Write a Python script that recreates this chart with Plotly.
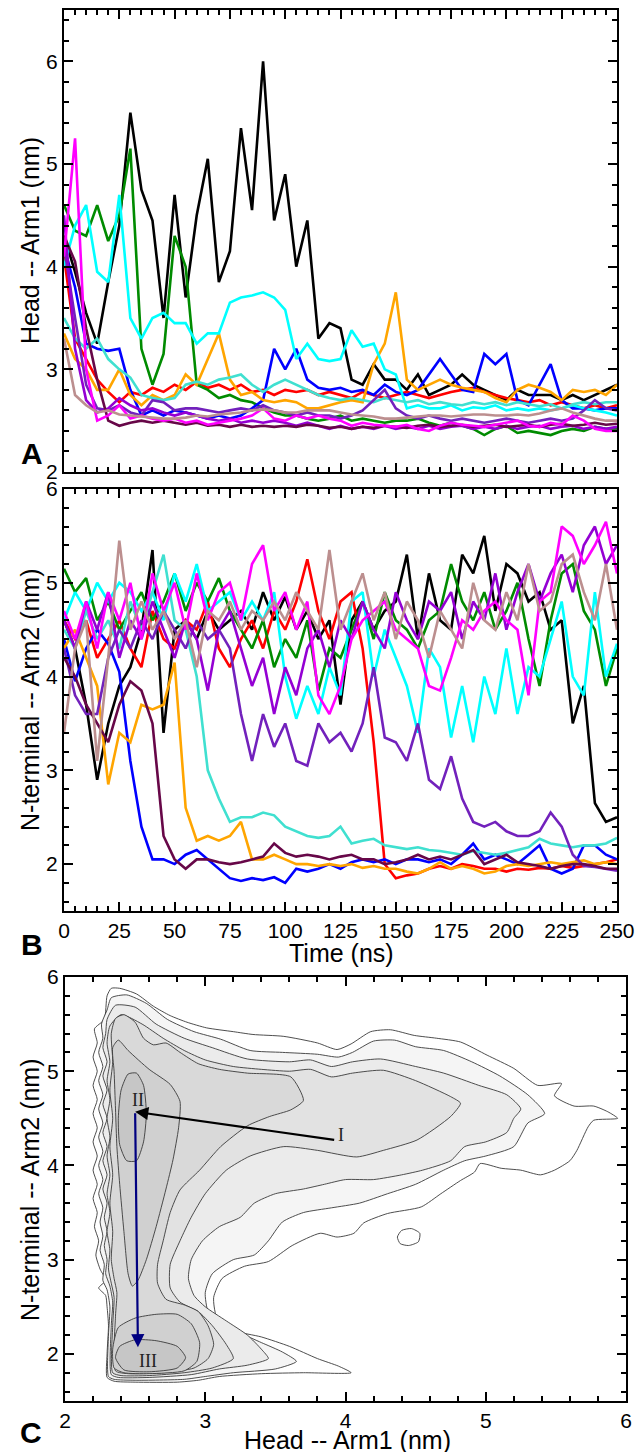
import plotly.graph_objects as go

# ---------------- time axis (ns) ----------------
T = list(range(0, 251, 5))

# ---------------- Panel A : Head -- Arm1 (nm) ----------------
A_black = [4.3,3.95,3.55,3.25,3.85,4.4,5.5,4.75,4.45,3.5,4.7,3.7,4.5,5.05,3.85,4.15,5.35,4.55,6.0,4.45,4.9,4.0,4.45,3.3,3.45,3.4,2.9,2.85,3.05,2.9,2.9,2.8,2.95,2.75,2.8,2.85,2.95,2.85,2.8,2.75,2.7,2.8,2.75,2.75,2.75,2.7,2.75,2.7,2.75,2.8,2.85]
A_green = [4.6,4.35,4.3,4.6,4.25,4.5,5.15,3.2,2.85,3.15,4.3,4.0,2.85,2.8,2.72,2.75,2.7,2.68,2.62,2.58,2.55,2.55,2.52,2.5,2.52,2.55,2.5,2.52,2.5,2.48,2.5,2.5,2.52,2.48,2.45,2.48,2.45,2.42,2.36,2.42,2.45,2.38,2.4,2.38,2.36,2.4,2.42,2.4,2.44,2.42,2.42]
A_cyan = [4.0,4.4,4.6,3.95,3.85,4.7,3.5,3.3,3.5,3.55,3.45,3.45,3.25,3.35,3.35,3.65,3.7,3.72,3.75,3.7,3.58,3.1,3.25,3.1,3.08,3.1,3.38,3.22,3.25,3.0,2.95,2.62,2.65,2.62,2.62,2.65,2.6,2.63,2.62,2.65,2.6,2.62,2.6,2.62,2.6,2.62,2.65,2.62,2.6,2.58,2.55]
A_blue = [4.2,3.8,3.25,3.2,3.18,3.2,2.8,2.55,2.6,2.55,2.6,2.58,2.55,2.52,2.55,2.52,2.55,2.62,2.7,3.2,3.0,3.2,2.9,2.82,2.8,2.82,2.78,2.8,2.75,2.85,2.78,2.75,2.8,2.95,3.1,2.95,2.8,2.78,3.15,3.05,3.15,2.7,2.65,2.85,3.05,2.7,2.62,2.62,2.6,2.62,2.62]
A_orange = [3.35,3.1,3.0,2.8,2.8,3.0,2.75,2.65,2.75,2.7,2.75,2.95,2.85,3.1,3.35,2.9,2.75,2.78,2.7,2.68,2.7,2.68,2.62,2.62,2.65,2.68,2.7,2.68,3.05,3.25,3.75,2.9,2.8,2.85,2.9,2.85,2.82,2.8,2.78,2.72,2.68,2.8,2.85,2.82,2.78,2.7,2.8,2.78,2.8,2.75,2.85]
A_red = [4.1,3.3,3.1,2.9,2.78,2.68,2.78,2.75,2.82,2.78,2.85,2.8,2.88,2.82,2.85,2.8,2.85,2.78,2.8,2.75,2.8,2.78,2.8,2.75,2.78,2.75,2.72,2.78,2.75,2.72,2.75,2.78,2.75,2.72,2.75,2.78,2.8,2.82,2.78,2.75,2.72,2.7,2.68,2.7,2.65,2.68,2.65,2.62,2.65,2.62,2.65]
A_turq = [3.5,3.3,3.2,3.3,3.1,3.0,2.92,2.75,2.72,2.7,2.72,2.85,2.88,2.85,2.9,2.92,2.95,2.85,2.78,2.85,2.9,2.85,2.8,2.75,2.72,2.7,2.72,2.7,2.68,2.72,2.7,2.68,2.7,2.66,2.68,2.66,2.65,2.68,2.66,2.68,2.65,2.68,2.66,2.64,2.66,2.62,2.66,2.68,2.66,2.68,2.68]
A_violet = [4.5,3.2,2.7,2.58,2.62,2.72,2.65,2.6,2.62,2.58,2.55,2.58,2.55,2.52,2.5,2.52,2.48,2.5,2.48,2.5,2.48,2.45,2.48,2.45,2.42,2.45,2.42,2.44,2.42,2.45,2.42,2.44,2.42,2.45,2.42,2.44,2.45,2.42,2.44,2.42,2.45,2.42,2.44,2.45,2.42,2.44,2.45,2.42,2.44,2.42,2.44]
A_indigo = [4.2,3.5,2.85,2.62,2.6,2.65,2.58,2.55,2.7,2.68,2.6,2.62,2.62,2.6,2.58,2.6,2.62,2.6,2.65,2.6,2.58,2.55,2.58,2.55,2.55,2.52,2.55,2.6,2.7,2.8,2.62,2.55,2.52,2.55,2.52,2.5,2.52,2.5,2.48,2.5,2.52,2.5,2.48,2.5,2.52,2.5,2.52,2.6,2.7,2.62,2.6]
A_magenta = [4.1,5.25,3.0,2.5,2.55,2.65,2.52,2.55,2.52,2.5,2.52,2.48,2.5,2.46,2.48,2.5,2.52,2.55,2.62,2.52,2.5,2.55,2.52,2.55,2.52,2.5,2.45,2.48,2.46,2.45,2.44,2.46,2.42,2.4,2.45,2.48,2.46,2.45,2.44,2.46,2.48,2.5,2.45,2.44,2.48,2.46,2.55,2.5,2.42,2.4,2.4]
A_maroon = [4.3,4.05,3.4,2.9,2.5,2.45,2.48,2.5,2.48,2.5,2.48,2.46,2.48,2.45,2.46,2.44,2.46,2.44,2.45,2.44,2.45,2.44,2.46,2.45,2.43,2.44,2.42,2.44,2.43,2.45,2.44,2.43,2.45,2.46,2.44,2.45,2.46,2.44,2.45,2.46,2.44,2.45,2.46,2.44,2.46,2.47,2.45,2.46,2.48,2.46,2.47]
A_brown = [3.3,2.75,2.65,2.58,2.6,2.56,2.55,2.54,2.53,2.52,2.52,2.53,2.55,2.54,2.56,2.57,2.58,2.6,2.61,2.6,2.58,2.58,2.6,2.6,2.6,2.58,2.56,2.55,2.54,2.52,2.52,2.53,2.54,2.55,2.55,2.54,2.55,2.56,2.56,2.55,2.55,2.56,2.55,2.57,2.6,2.62,2.58,2.55,2.52,2.5,2.5]

# ---------------- Panel B : N-terminal -- Arm2 (nm) ----------------
B_black = [4.6,4.3,3.7,2.9,3.5,3.9,4.1,4.5,5.35,3.4,4.5,4.6,4.4,4.7,4.5,4.6,4.7,4.5,4.9,4.6,4.85,4.5,4.7,4.4,4.6,3.7,4.6,4.8,4.5,4.7,4.8,5.3,4.4,5.1,4.6,4.5,5.3,5.1,5.5,4.7,5.2,5.1,4.8,4.9,4.5,4.6,3.5,3.9,2.65,2.45,2.5]
B_green = [5.15,4.9,5.05,4.6,4.8,4.5,4.7,4.9,4.6,4.8,5.1,4.7,5.0,4.8,5.05,4.7,4.5,4.3,4.6,4.1,4.4,4.2,4.6,3.85,4.3,4.2,4.5,4.8,4.4,4.9,4.6,4.5,4.3,4.6,4.7,5.2,4.8,4.6,4.9,4.5,4.7,5.0,4.4,3.9,4.6,5.1,5.2,4.7,4.5,3.9,4.3]
B_cyan = [4.6,4.9,4.7,5.0,4.8,5.0,4.9,4.7,4.9,4.6,5.1,4.8,5.2,4.7,4.8,4.9,4.6,4.8,4.6,4.9,4.0,3.55,3.9,3.6,4.1,3.8,4.8,4.9,4.0,4.5,4.2,3.9,3.4,4.3,4.1,3.35,3.9,3.3,4.0,3.6,4.3,3.6,4.1,4.0,4.4,4.8,4.0,3.8,4.9,4.0,4.35]
B_blue = [4.4,3.95,4.3,4.5,4.35,4.05,3.1,2.4,2.05,2.05,2.0,2.1,2.15,2.05,1.95,1.85,1.82,1.85,1.83,1.86,1.8,1.95,1.92,1.95,2.0,1.95,2.02,2.05,2.02,2.05,2.0,2.05,2.05,2.02,2.05,2.0,2.1,2.22,2.05,2.1,2.05,2.0,2.1,2.2,1.95,1.9,1.95,2.2,2.2,2.1,2.05]
B_orange = [4.3,4.5,4.2,3.9,2.85,3.4,3.3,3.7,3.65,3.7,4.15,2.6,2.25,2.3,2.25,2.3,2.45,2.05,2.05,2.1,2.05,2.0,2.0,1.98,2.0,1.98,2.0,1.96,1.98,1.95,1.95,1.92,1.9,1.95,2.02,1.95,1.98,1.95,1.9,1.92,1.98,2.0,1.98,2.0,2.02,2.0,2.02,2.04,2.0,2.02,2.0]
B_red = [4.6,4.4,4.6,4.2,4.4,4.6,4.3,4.1,4.7,4.4,4.3,4.6,4.5,4.8,4.3,4.1,4.4,4.6,4.3,4.7,4.5,4.8,5.25,4.7,4.4,4.8,4.9,4.3,3.3,2.0,1.85,1.88,1.9,1.95,1.98,1.95,2.0,1.98,1.95,1.95,1.92,1.95,1.94,1.96,1.95,1.98,1.96,1.98,2.0,2.02,2.05]
B_turq = [4.5,4.3,4.7,4.4,4.6,4.3,4.8,4.5,4.9,5.3,4.6,4.5,4.0,3.0,2.7,2.45,2.5,2.5,2.55,2.52,2.4,2.35,2.3,2.28,2.3,2.4,2.22,2.25,2.27,2.2,2.18,2.16,2.18,2.15,2.14,2.12,2.1,2.14,2.12,2.1,2.12,2.15,2.18,2.27,2.22,2.2,2.18,2.2,2.2,2.22,2.28]
B_indigo = [4.3,3.8,3.6,3.6,4.2,4.5,4.3,4.6,4.4,4.7,4.5,4.3,4.6,4.4,4.5,4.3,3.6,3.1,3.6,3.25,3.5,3.1,3.05,3.5,3.3,3.4,3.2,3.5,4.1,3.35,3.3,3.1,3.5,2.9,2.8,3.15,2.7,2.45,2.4,2.45,2.35,2.3,2.3,2.35,2.55,2.4,2.1,1.98,1.97,1.95,1.93]
B_violet = [4.6,4.3,4.8,4.5,4.9,4.2,4.6,4.4,4.8,4.5,4.2,4.6,4.4,3.85,4.5,4.7,4.3,3.9,4.2,3.6,4.1,3.8,4.3,4.5,4.1,4.6,4.4,4.8,4.5,4.3,4.9,4.6,4.4,4.8,4.7,4.9,4.4,4.8,4.6,5.1,4.5,4.9,5.2,4.8,5.1,5.3,4.9,5.4,5.6,5.2,5.4]
B_maroon = [4.2,4.0,3.7,3.5,3.3,3.7,3.95,3.85,3.5,2.3,2.05,1.95,2.05,2.05,2.02,2.0,2.02,2.05,2.08,2.22,2.12,2.08,2.1,2.08,2.05,2.08,2.1,2.05,2.05,2.0,2.02,2.05,2.1,2.05,2.08,2.05,2.1,2.15,2.0,2.05,2.1,2.02,2.0,1.98,1.95,1.98,2.0,2.0,1.98,1.95,1.95]
B_magenta = [4.7,4.4,4.8,4.3,4.9,4.6,5.0,4.4,5.1,4.7,5.0,4.5,5.1,4.6,4.9,5.0,4.6,5.2,5.4,4.7,4.9,4.5,4.8,3.8,3.6,3.9,4.4,4.6,4.7,4.8,4.5,4.4,4.3,3.9,3.85,4.2,4.6,4.5,4.7,4.8,4.6,4.5,3.8,4.8,4.9,5.6,5.5,5.2,5.4,5.65,5.1]
B_brown = [3.4,4.3,4.6,3.1,4.2,5.45,4.5,4.8,4.5,4.7,4.4,4.6,4.1,4.7,4.6,4.8,4.5,4.7,4.6,4.8,4.6,4.9,4.7,4.5,5.35,4.5,4.8,5.1,4.6,4.9,4.4,4.8,4.6,4.2,4.7,4.5,4.3,5.0,4.6,4.5,4.9,4.6,5.2,4.7,4.8,5.2,5.3,4.9,4.6,5.2,4.5]

# series order (drawing order) and colours
SERIES_NAMES = ["black", "red", "green", "blue", "orange", "cyan", "turquoise",
                "indigo", "violet", "maroon", "magenta", "brown"]
COLORS = {"black": "#000000", "red": "#ff0000", "green": "#008b00", "blue": "#0000ff",
          "orange": "#ffa500", "cyan": "#00ffff", "turquoise": "#40e0d0",
          "indigo": "#7221bc", "violet": "#9400d3", "maroon": "#670748",
          "magenta": "#ff00ff", "brown": "#bc8f8f"}
PANEL_A = {"black": A_black, "red": A_red, "green": A_green, "blue": A_blue,
           "orange": A_orange, "cyan": A_cyan, "turquoise": A_turq, "indigo": A_indigo,
           "violet": A_violet, "maroon": A_maroon, "magenta": A_magenta, "brown": A_brown}
PANEL_B = {"black": B_black, "red": B_red, "green": B_green, "blue": B_blue,
           "orange": B_orange, "cyan": B_cyan, "turquoise": B_turq, "indigo": B_indigo,
           "violet": B_violet, "maroon": B_maroon, "magenta": B_magenta, "brown": B_brown}

# ---------------- Panel C : contour outlines (x = Head--Arm1, y = N-term--Arm2) ----------------
C_L1 = [(2.30,1.75),(2.30,2.00),(2.31,2.30),(2.30,2.50),(2.29,2.62),(2.24,2.70),(2.29,2.78),(2.25,2.90),(2.22,3.05),(2.24,3.20),(2.21,3.35),(2.23,3.50),(2.20,3.65),(2.23,3.80),(2.20,3.95),(2.23,4.10),(2.20,4.25),(2.23,4.40),(2.20,4.55),(2.23,4.70),(2.20,4.85),(2.23,5.00),(2.20,5.15),(2.23,5.30),(2.21,5.45),(2.28,5.55),(2.30,5.80),(2.33,5.88),(2.39,5.88),(2.51,5.82),(2.63,5.69),(2.75,5.59),(2.87,5.52),(3.01,5.46),(3.20,5.42),(3.34,5.39),(3.56,5.37),(3.80,5.30),(3.94,5.23),(4.04,5.29),(4.18,5.42),(4.32,5.44),(4.49,5.38),(4.65,5.35),(4.82,5.31),(5.01,5.17),(5.20,5.03),(5.37,4.85),(5.54,4.87),(5.49,4.74),(5.63,4.63),(5.77,4.63),(5.87,4.57),(5.94,4.50),(5.77,4.48),(5.73,4.41),(5.65,4.16),(5.60,4.05),(5.49,3.95),(5.39,3.90),(5.25,3.95),(5.11,3.97),(4.96,4.02),(4.92,3.93),(4.82,3.84),(4.68,3.70),(4.54,3.56),(4.30,3.49),(4.13,3.39),(4.06,3.28),(3.94,3.24),(3.82,3.28),(3.62,3.15),(3.45,2.98),(3.28,2.93),(3.12,2.80),(3.06,2.60),(3.08,2.40),(3.20,2.25),(3.40,2.18),(3.60,2.08),(3.80,1.95),(3.95,1.87),(4.04,1.80),(3.70,1.80),(3.40,1.79),(3.10,1.76),(2.95,1.72),(2.80,1.70),(2.50,1.70),(2.35,1.71)]
C_L2 = [(2.31,1.76),(2.31,2.20),(2.32,2.50),(2.30,2.68),(2.27,2.78),(2.28,2.95),(2.25,3.10),(2.27,3.25),(2.25,3.40),(2.27,3.55),(2.24,3.70),(2.27,3.85),(2.24,4.00),(2.27,4.15),(2.24,4.30),(2.27,4.45),(2.24,4.60),(2.27,4.75),(2.24,4.90),(2.27,5.05),(2.24,5.20),(2.27,5.35),(2.26,5.50),(2.30,5.65),(2.33,5.78),(2.44,5.81),(2.58,5.72),(2.73,5.55),(2.92,5.42),(3.11,5.34),(3.32,5.22),(3.55,5.20),(3.80,5.18),(3.95,5.15),(4.05,5.20),(4.20,5.32),(4.35,5.33),(4.50,5.26),(4.70,5.22),(4.90,5.10),(5.10,4.95),(5.30,4.75),(5.42,4.55),(5.30,4.45),(5.20,4.20),(5.00,4.10),(4.85,4.05),(4.70,3.95),(4.50,3.80),(4.30,3.70),(4.10,3.60),(3.90,3.55),(3.70,3.50),(3.55,3.40),(3.45,3.20),(3.35,3.05),(3.20,3.00),(3.05,2.85),(3.00,2.65),(3.02,2.45),(3.10,2.32),(3.25,2.22),(3.40,2.12),(3.55,2.02),(3.65,1.92),(3.50,1.84),(3.20,1.80),(3.00,1.76),(2.85,1.73),(2.50,1.72),(2.35,1.73)]
C_L3 = [(2.33,1.78),(2.33,2.30),(2.34,2.55),(2.32,2.72),(2.29,2.85),(2.30,3.00),(2.28,3.15),(2.30,3.30),(2.28,3.45),(2.30,3.60),(2.27,3.75),(2.30,3.90),(2.27,4.05),(2.30,4.20),(2.27,4.35),(2.30,4.50),(2.27,4.65),(2.30,4.80),(2.27,4.95),(2.30,5.10),(2.27,5.25),(2.29,5.40),(2.30,5.55),(2.36,5.70),(2.50,5.68),(2.65,5.50),(2.85,5.35),(3.05,5.25),(3.30,5.13),(3.60,5.10),(3.75,5.12),(3.90,5.05),(4.05,5.10),(4.25,5.13),(4.50,5.05),(4.70,4.98),(4.95,4.85),(5.15,4.75),(5.25,4.60),(5.20,4.50),(5.15,4.35),(5.00,4.25),(4.85,4.20),(4.75,4.05),(4.55,3.95),(4.40,3.90),(4.20,3.85),(4.00,3.85),(3.85,3.80),(3.70,3.75),(3.50,3.70),(3.35,3.60),(3.25,3.45),(3.10,3.35),(2.98,3.20),(2.90,3.00),(2.88,2.80),(2.92,2.62),(3.00,2.50),(3.15,2.35),(3.30,2.20),(3.40,2.05),(3.45,1.95),(3.30,1.88),(3.10,1.84),(2.90,1.78),(2.60,1.75),(2.38,1.75)]
C_L4 = [(2.34,1.80),(2.34,2.30),(2.35,2.60),(2.33,2.75),(2.31,2.90),(2.32,3.10),(2.30,3.30),(2.32,3.50),(2.30,3.70),(2.32,3.90),(2.30,4.10),(2.32,4.30),(2.30,4.50),(2.32,4.70),(2.30,4.90),(2.32,5.10),(2.30,5.30),(2.32,5.48),(2.40,5.60),(2.55,5.50),(2.70,5.35),(2.85,5.22),(3.00,5.12),(3.20,5.05),(3.40,5.02),(3.60,5.00),(3.75,5.02),(3.90,4.94),(4.05,4.98),(4.27,5.01),(4.50,4.90),(4.75,4.73),(4.82,4.66),(4.75,4.52),(4.51,4.27),(4.27,4.16),(4.08,4.09),(3.80,4.16),(3.56,4.20),(3.32,4.10),(3.15,3.95),(3.00,3.70),(2.90,3.45),(2.82,3.20),(2.75,2.95),(2.75,2.70),(2.82,2.55),(2.95,2.45),(3.05,2.30),(3.15,2.10),(3.20,1.95),(3.05,1.85),(2.85,1.80),(2.60,1.77),(2.40,1.77)]
C_L5 = [(2.36,1.82),(2.36,2.40),(2.37,2.65),(2.35,2.80),(2.33,3.00),(2.34,3.30),(2.32,3.60),(2.34,3.90),(2.32,4.20),(2.34,4.50),(2.32,4.80),(2.34,5.10),(2.33,5.40),(2.36,5.56),(2.42,5.60),(2.50,5.52),(2.56,5.35),(2.63,5.28),(2.72,5.30),(2.82,5.20),(2.95,5.08),(3.10,5.02),(3.30,4.98),(3.61,4.94),(3.70,4.69),(3.61,4.59),(3.46,4.52),(3.30,4.42),(3.11,4.20),(2.96,3.95),(2.82,3.74),(2.75,3.50),(2.70,3.20),(2.66,2.95),(2.66,2.75),(2.72,2.58),(2.85,2.52),(2.95,2.45),(3.02,2.30),(3.06,2.10),(3.02,1.95),(2.92,1.85),(2.70,1.80),(2.45,1.79)]
C_L6_top = [(2.34,5.25),(2.38,5.33),(2.45,5.22),(2.60,5.02),(2.75,4.86),(2.82,4.68),(2.81,4.40),(2.77,4.06),(2.72,3.75),(2.65,3.35),(2.58,3.00),(2.52,2.78),(2.48,2.72),(2.45,2.85),(2.42,3.30),(2.39,3.80),(2.37,4.20),(2.36,4.60),(2.35,5.00)]
C_L6_bot = [(2.35,1.85),(2.34,2.05),(2.38,2.28),(2.50,2.38),(2.65,2.42),(2.80,2.42),(2.90,2.32),(2.96,2.12),(2.94,1.92),(2.85,1.82),(2.60,1.79),(2.42,1.80)]
C_L7_II = [(2.38,4.50),(2.40,4.80),(2.45,4.97),(2.51,4.98),(2.56,4.85),(2.58,4.55),(2.56,4.25),(2.51,4.05),(2.44,4.05),(2.39,4.22)]
C_L7_III = [(2.36,1.96),(2.39,2.08),(2.50,2.15),(2.65,2.14),(2.80,2.08),(2.86,1.96),(2.80,1.85),(2.60,1.81),(2.42,1.83)]
C_island = [(4.37,3.24),(4.40,3.31),(4.47,3.33),(4.53,3.28),(4.52,3.19),(4.45,3.15),(4.39,3.17)]

CONTOURS = [(C_L1, "#ffffff"), (C_island, "#ffffff"), (C_L2, "#f5f5f5"), (C_L3, "#ebebeb"),
            (C_L4, "#e2e2e2"), (C_L5, "#d9d9d9"), (C_L6_top, "#d0d0d0"), (C_L6_bot, "#d0d0d0"),
            (C_L7_II, "#c6c6c6"), (C_L7_III, "#c6c6c6")]

# pathway arrows: I -> II (black), II -> III (navy)
STATE_I = (3.93, 4.27)
STATE_II = (2.50, 4.57)
STATE_III = (2.52, 2.07)

# ---------------- figure ----------------
W, H = 642, 1452
def px(x):
    return x / W
def py(y):
    return 1 - y / H

fig = go.Figure()

for name in SERIES_NAMES:
    fig.add_trace(go.Scatter(x=T, y=PANEL_A[name], mode="lines", xaxis="x", yaxis="y",
                             line=dict(color=COLORS[name], width=2.6), hoverinfo="skip"))
for name in SERIES_NAMES:
    fig.add_trace(go.Scatter(x=T, y=PANEL_B[name], mode="lines", xaxis="x2", yaxis="y2",
                             line=dict(color=COLORS[name], width=2.6), hoverinfo="skip"))

for poly, col in CONTOURS:
    xs = [p[0] for p in poly] + [poly[0][0]]
    ys = [p[1] for p in poly] + [poly[0][1]]
    fig.add_trace(go.Scatter(x=xs, y=ys, mode="lines", xaxis="x3", yaxis="y3",
                             fill="toself", fillcolor=col,
                             line=dict(color="#3a3a3a", width=0.9, shape="spline", smoothing=0.6),
                             hoverinfo="skip"))

tickfont = dict(family="Liberation Sans, Arial, sans-serif", size=21, color="black")
def axis_common(**kw):
    d = dict(showline=True, linewidth=2.2, linecolor="black", mirror="ticks",
             ticks="inside", ticklen=9, tickwidth=2, tickcolor="black",
             showgrid=False, zeroline=False, tickfont=tickfont, automargin=False,
             minor=dict(ticks="inside", ticklen=5, tickwidth=1.5, tickcolor="black", showgrid=False))
    d.update(kw)
    return d

xdomAB = [px(64), px(617)]
fig.update_layout(
    width=W, height=H, margin=dict(l=0, r=0, t=0, b=0, autoexpand=False),
    paper_bgcolor="white", plot_bgcolor="white", showlegend=False,
    xaxis=axis_common(domain=xdomAB, range=[0, 250], dtick=25, tick0=0,
                      minor_dtick=5, showticklabels=False, anchor="y"),
    yaxis=axis_common(domain=[py(472), py(10)], range=[2, 6.5], dtick=1, tick0=0,
                      minor_dtick=0.2, anchor="x"),
    xaxis2=axis_common(domain=xdomAB, range=[0, 250], dtick=25, tick0=0,
                       minor_dtick=5, anchor="y2"),
    yaxis2=axis_common(domain=[py(911), py(489)], range=[1.5, 6], dtick=1, tick0=0,
                       minor_dtick=0.2, anchor="x2"),
    xaxis3=axis_common(domain=[px(65), px(626)], range=[2, 6], dtick=1, tick0=0,
                       minor_dtick=0.2, anchor="y3"),
    yaxis3=axis_common(domain=[py(1401), py(977)], range=[1.5, 6], dtick=1, tick0=0,
                       minor_dtick=0.2, anchor="x3"),
)

titlefont = dict(family="Liberation Sans, Arial, sans-serif", size=25, color="black")
letterfont = dict(family="Liberation Sans, Arial, sans-serif", size=30, color="black")
ann = []
def paper_text(text, x, y, font, angle=0):
    return dict(text=text, x=px(x), y=py(y), xref="paper", yref="paper",
                xanchor="center", yanchor="middle", textangle=angle,
                showarrow=False, font=font)
ann.append(paper_text("Head -- Arm1 (nm)", 30, 241, titlefont, -90))
ann.append(paper_text("N-terminal -- Arm2 (nm)", 30, 700, titlefont, -90))
ann.append(paper_text("Time (ns)", 341, 953, titlefont))
ann.append(paper_text("N-terminal -- Arm2 (nm)", 30, 1190, titlefont, -90))
ann.append(paper_text("Head -- Arm1 (nm)", 347, 1440, titlefont))
for letter, (lx, ly) in {"A": (32, 453), "B": (32, 944), "C": (31, 1432)}.items():
    ann.append(paper_text("<b>%s</b>" % letter, lx, ly, letterfont))

# arrows in panel C
ann.append(dict(x=STATE_II[0], y=STATE_II[1], ax=STATE_I[0], ay=STATE_I[1],
                xref="x3", yref="y3", axref="x3", ayref="y3", text="", showarrow=True,
                arrowhead=2, arrowsize=1.2, arrowwidth=2.2, arrowcolor="black"))
ann.append(dict(x=STATE_III[0], y=STATE_III[1], ax=STATE_II[0], ay=STATE_II[1],
                xref="x3", yref="y3", axref="x3", ayref="y3", text="", showarrow=True,
                arrowhead=2, arrowsize=1.2, arrowwidth=2.2, arrowcolor="#000080"))
serif = dict(family="Liberation Serif, Times New Roman, serif", size=18, color="#222222")
for lab, (lx, ly) in {"I": (3.97, 4.32), "II": (2.52, 4.69), "III": (2.59, 1.92)}.items():
    ann.append(dict(text=lab, x=lx, y=ly, xref="x3", yref="y3", xanchor="center",
                    yanchor="middle", showarrow=False, font=serif))

fig.update_layout(annotations=ann)
fig.write_html("out.html", config={"displayModeBar": False},
               post_script="document.body.style.margin='0';document.body.style.padding='0';")
